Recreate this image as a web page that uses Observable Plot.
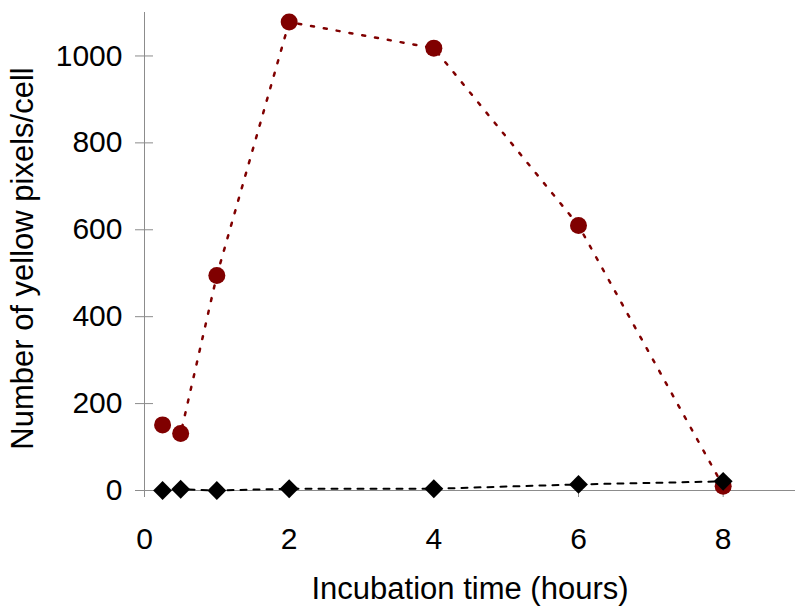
<!DOCTYPE html>
<html>
<head>
<meta charset="utf-8">
<script src="https://cdn.jsdelivr.net/npm/d3@7"></script>
<script src="https://cdn.jsdelivr.net/npm/@observablehq/plot@0.6"></script>
<style>
  html, body { margin: 0; padding: 0; background: #fff; }
  #chart svg { display: block; }
</style>
</head>
<body>
<div id="chart"></div>
<script>
// Data
const hours = [0.25, 0.5, 1, 2, 4, 6, 8];
const redValues = [151, 131, 495, 1078, 1018, 610, 10];
const blackValues = [0, 3, 0, 4, 4, 14, 21];
const xTicks = [0, 2, 4, 6, 8];
const yTicks = [0, 200, 400, 600, 800, 1000];
const xTitle = "Incubation time (hours)";
const yTitle = "Number of yellow pixels/cell";

const red = hours.map((h, i) => ({h, v: redValues[i]}));
const black = hours.map((h, i) => ({h, v: blackValues[i]}));

const darkRed = "#800000";
const axisGrey = "#8c8c8c";

const chart = Plot.plot({
  width: 800,
  height: 611,
  marginLeft: 144,
  marginRight: 5,
  marginTop: 12,
  marginBottom: 121,
  style: {fontFamily: "'Liberation Sans', Arial, sans-serif", fontSize: "30px", color: "#000", background: "#fff"},
  x: {domain: [0, 9]},
  y: {domain: [0, 1100]},
  marks: [
    Plot.ruleX([0], {stroke: axisGrey, strokeWidth: 1}),
    Plot.ruleY([0], {stroke: axisGrey, strokeWidth: 1}),
    Plot.axisY(yTicks, {tickSize: 9, tickPadding: 13, stroke: axisGrey, fill: "#000",
      tickFormat: d3.format("d"), label: null}),
    Plot.axisY(yTicks, {tickSize: -9, tickFormat: () => "", stroke: axisGrey, label: null}),
    Plot.axisX(xTicks, {tickSize: 7, tickPadding: 30, stroke: axisGrey, fill: "#000",
      tickFormat: d3.format("d"), label: null}),
    Plot.text([yTitle], {text: d => d, frameAnchor: "left", rotate: -90, textAnchor: "middle", lineAnchor: "top",
      dx: -134, dy: 7, fontSize: 31, fill: "#000"}),
    Plot.text([xTitle], {text: d => d, frameAnchor: "bottom", textAnchor: "middle", lineAnchor: "bottom",
      dy: 108, fontSize: 31, fill: "#000"}),
    Plot.line(red, {x: "h", y: "v", stroke: darkRed, strokeWidth: 2.5, strokeDasharray: "3,10"}),
    Plot.dot(red, {x: "h", y: "v", r: 8.5, fill: darkRed, stroke: "none"}),
    Plot.line(black, {x: "h", y: "v", stroke: "#000", strokeWidth: 2, strokeDasharray: "6,7"}),
    Plot.dot(black, {x: "h", y: "v", r: 8.5, symbol: "diamond2", fill: "#000", stroke: "none"})
  ]
});
document.getElementById("chart").appendChild(chart);
</script>
</body>
</html>
